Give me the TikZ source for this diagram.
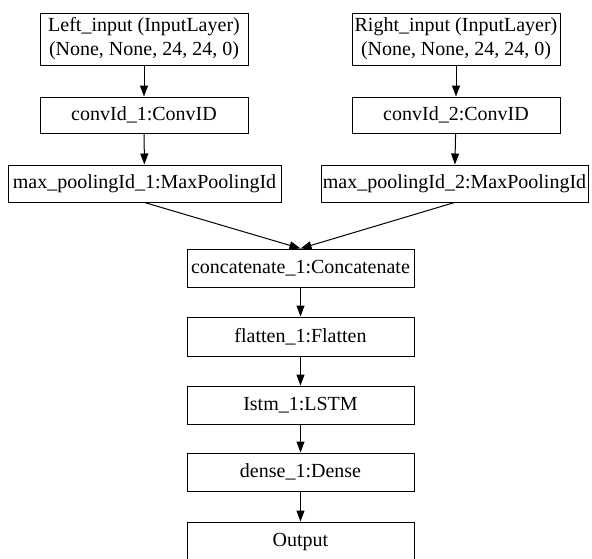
\documentclass[tikz,border=0pt]{standalone}
\usepackage{fontspec}
\setmainfont{Liberation Serif}
\usetikzlibrary{arrows.meta}
\begin{document}
\begin{tikzpicture}[x=1pt,y=-1pt,
  layer/.style={draw, line width=1pt, inner sep=0pt, align=center,
    font=\fontsize{20}{24}\selectfont},
  conn/.style={line width=1pt, -{Triangle[length=11pt,width=8pt]}}]
\useasboundingbox (0,0) rectangle (592,558);
\begin{scope}
\clip (0,0) rectangle (592,558);
\node[layer, minimum width=208pt, minimum height=52pt] (lin) at (144,39) {Left\_input (InputLayer)\\(None, None, 24, 24, 0)};
\node[layer, minimum width=208pt, minimum height=36pt] (c1) at (144,115) {convId\_1:ConvID};
\node[layer, minimum width=273pt, minimum height=37pt] (mp1) at (144.5,183.5) {max\_poolingId\_1:MaxPoolingId};
\node[layer, minimum width=208pt, minimum height=52pt] (rin) at (456,39) {Right\_input (InputLayer)\\(None, None, 24, 24, 0)};
\node[layer, minimum width=208pt, minimum height=36pt] (c2) at (456,115) {convId\_2:ConvID};
\node[layer, minimum width=267pt, minimum height=37pt] (mp2) at (454.5,183.5) {max\_poolingId\_2:MaxPoolingId};
\node[layer, minimum width=227pt, minimum height=38pt] (cat) at (300.5,268) {concatenate\_1:Concatenate};
\node[layer, minimum width=227pt, minimum height=39pt] (fl) at (300.5,336.5) {flatten\_1:Flatten};
\node[layer, minimum width=227pt, minimum height=38pt] (ls) at (300.5,405) {Istm\_1:LSTM};
\node[layer, minimum width=227pt, minimum height=38pt] (de) at (300.5,472) {dense\_1:Dense};
\node[layer, minimum width=227pt, minimum height=40pt] (out) at (300.5,542) {Output};
\draw[conn] (lin) -- (c1);
\draw[conn] (c1) -- (mp1);
\draw[conn] (rin) -- (c2);
\draw[conn] (c2) -- (mp2);
\draw[conn] (mp1.south) -- (cat.north);
\draw[conn] (mp2.south) -- (cat.north);
\draw[conn] (cat) -- (fl);
\draw[conn] (fl) -- (ls);
\draw[conn] (ls) -- (de);
\draw[conn] (de) -- (out);
\end{scope}
\end{tikzpicture}
\end{document}
